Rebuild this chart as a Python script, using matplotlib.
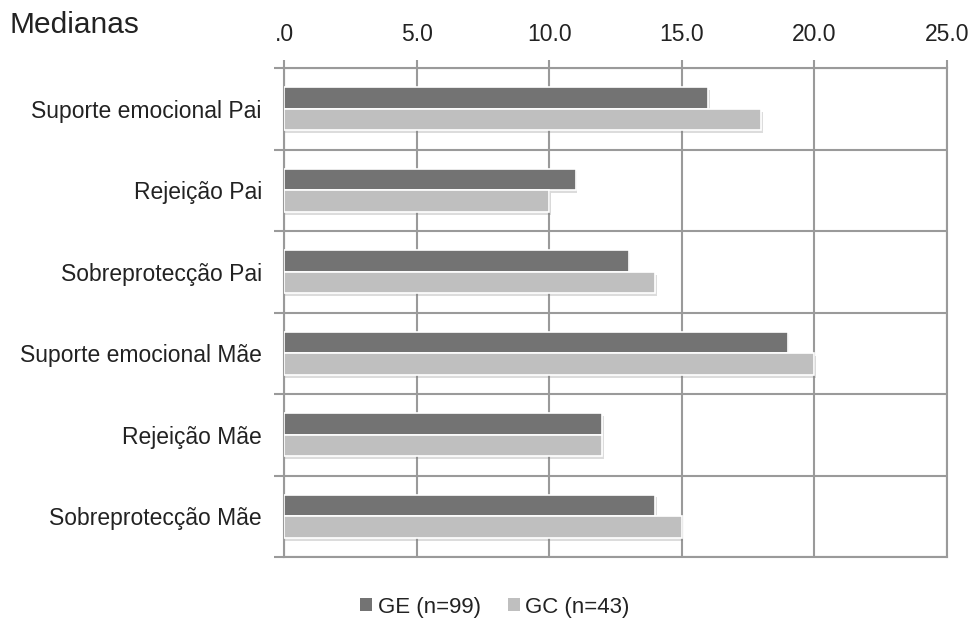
import matplotlib
matplotlib.use("Agg")
import matplotlib.pyplot as plt
import matplotlib.patheffects as pe
from matplotlib.patches import Patch
import numpy as np

categories = [
    "Suporte emocional Pai",
    "Rejeição Pai",
    "Sobreprotecção Pai",
    "Suporte emocional Mãe",
    "Rejeição Mãe",
    "Sobreprotecção Mãe",
]
ge_values = [16, 11, 13, 19, 12, 14]
gc_values = [18, 10, 14, 20, 12, 15]
x_ticks = [0, 5, 10, 15, 20, 25]
x_tick_labels = [".0", "5.0", "10.0", "15.0", "20.0", "25.0"]
series_labels = ["GE (n=99)", "GC (n=43)"]
series_colors = ["#737373", "#bfbfbf"]

plt.rcParams["font.family"] = ["Liberation Sans", "DejaVu Sans"]
grid_col = "#9a9a9a"
text_col = "#222222"

fig = plt.figure(figsize=(9.74, 6.21), dpi=100)
ax = fig.add_axes([284 / 974, 1 - 557 / 621, (947 - 284) / 974, (557 - 68) / 621])

y = np.arange(len(categories))
h = 0.265
shadow = [pe.SimplePatchShadow(offset=(1, -2), shadow_rgbFace="#777777", alpha=0.25), pe.Normal()]
b1 = ax.barh(y - h / 2, ge_values, height=h, color=series_colors[0], edgecolor="white",
             linewidth=1.2, zorder=3)
b2 = ax.barh(y + h / 2, gc_values, height=h, color=series_colors[1], edgecolor="white",
             linewidth=1.2, zorder=3)
for bar in list(b1) + list(b2):
    bar.set_path_effects(shadow)

ax.set_xlim(0, 25)
ax.set_ylim(len(categories) - 0.5, -0.5)

ax.xaxis.tick_top()
ax.set_xticks(x_ticks)
ax.set_xticklabels(x_tick_labels, fontsize=16.5, color=text_col)
ax.tick_params(axis="x", which="major", direction="out", length=6, width=1.5,
               color=grid_col, pad=10)

ax.set_yticks(y)
ax.set_yticklabels(categories, fontsize=16.5, color=text_col)
ax.set_yticks(np.arange(len(categories) + 1) - 0.5, minor=True)
ax.tick_params(axis="y", which="major", length=0, pad=16)
ax.tick_params(axis="y", which="minor", direction="out", length=7, width=1.5, color=grid_col)

ax.grid(axis="x", which="major", color=grid_col, linewidth=1.5, zorder=1)
ax.grid(axis="y", which="minor", color=grid_col, linewidth=1.5, zorder=1)
ax.set_axisbelow(True)
for s in ax.spines.values():
    s.set_color(grid_col)
    s.set_linewidth(1.5)

fig.text(9 / 974, 1 - 25 / 621, "Medianas", fontsize=21.5, color=text_col, va="center", ha="left")

handles = [Patch(facecolor=c, edgecolor="none") for c in series_colors]
fig.legend(handles=handles, labels=series_labels, loc="center",
           bbox_to_anchor=(495 / 974, 1 - 607 / 621), ncol=2, frameon=False, fontsize=16,
           handlelength=0.55, handleheight=0.55, handletextpad=0.25, columnspacing=1.2,
           labelcolor=text_col)

fig.savefig("out.png", dpi=100)
